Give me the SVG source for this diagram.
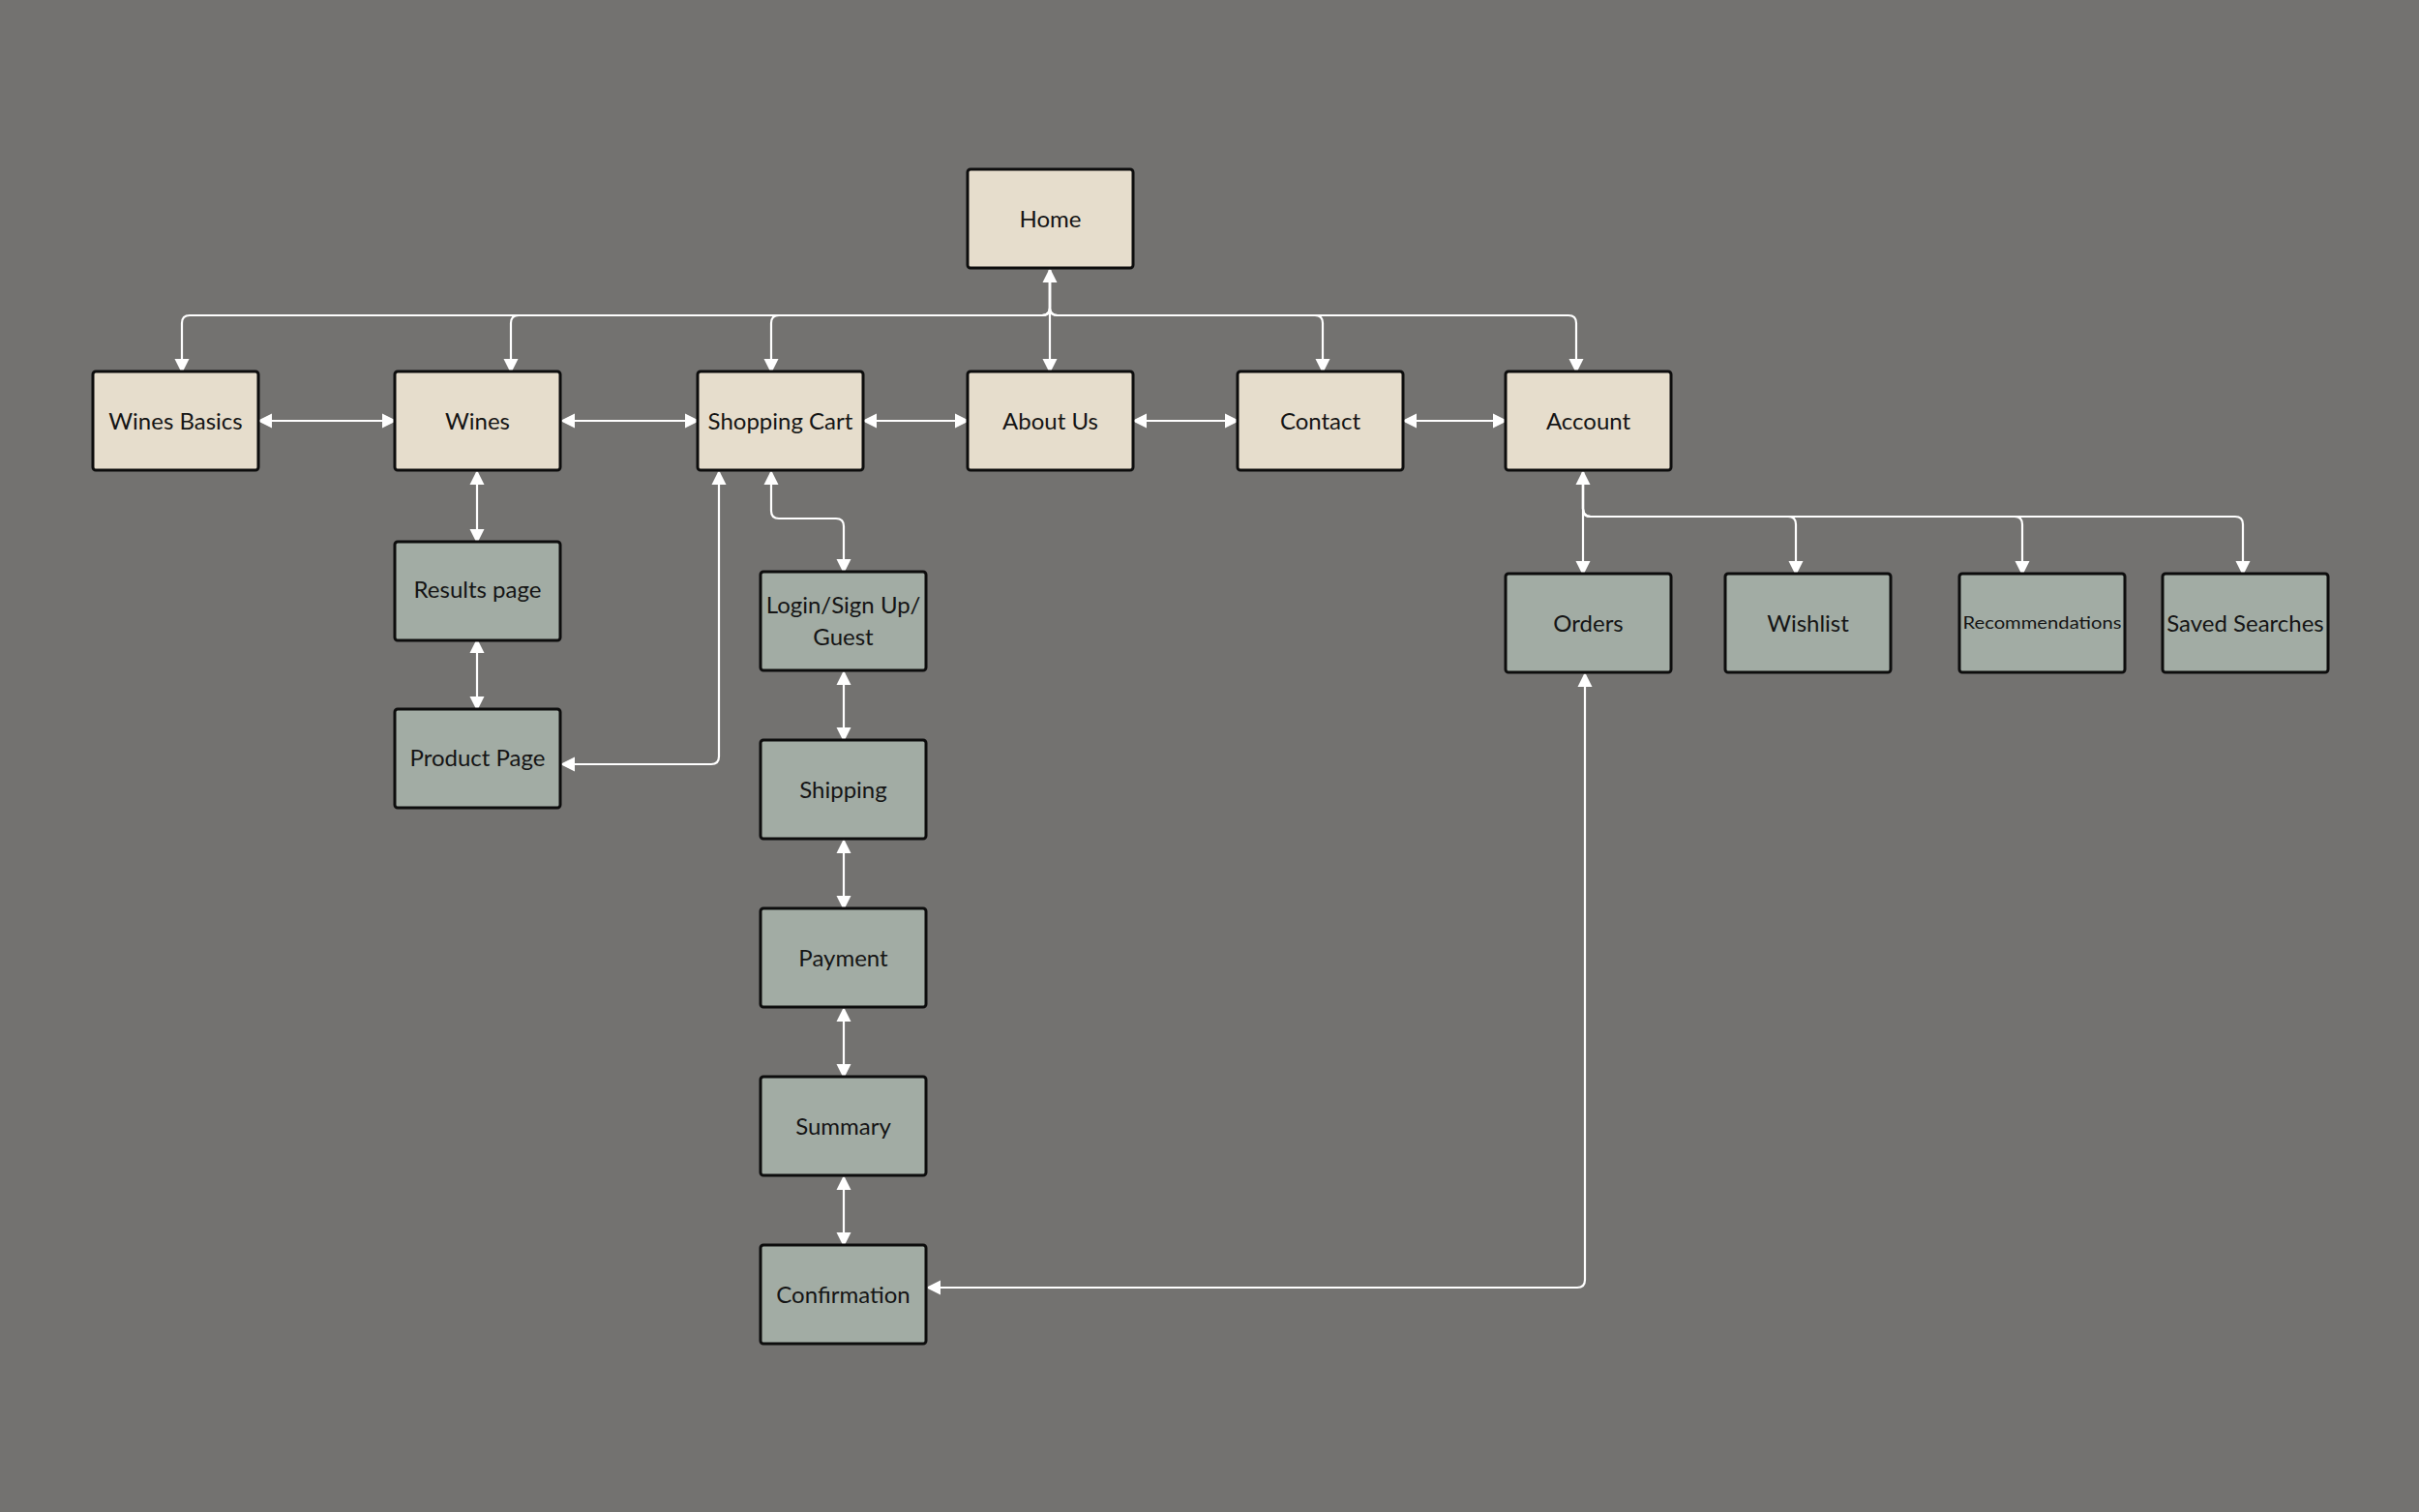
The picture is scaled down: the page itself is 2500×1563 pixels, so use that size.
<svg xmlns="http://www.w3.org/2000/svg" width="2500" height="1563" viewBox="0 0 2500 1563">
<defs>
<marker id="arr" viewBox="0 0 14 17" refX="13" refY="8.5" markerWidth="15" markerHeight="17" markerUnits="userSpaceOnUse" orient="auto-start-reverse">
<path d="M0,1 L13,7.5 Q14,8.5 13,9.5 L0,16 Z" fill="#ffffff"/>
</marker>
<style>
.bg{fill:#737270}
.main{fill:#e6ddcc;stroke:#0d0d0d;stroke-width:3}
.sub{fill:#a2aca4;stroke:#0d0d0d;stroke-width:3}
.lbl{font-family:Lato,"Open Sans","Liberation Sans",sans-serif;font-size:24px;fill:#151515;text-anchor:middle;dominant-baseline:central}
.small{font-size:18px}
.c{fill:none;stroke:#ffffff;stroke-width:2.2}
</style>
</defs>
<rect class="bg" x="0" y="0" width="2500" height="1563"/>

<g id="connectors">
<path class="c" d="M1085,279 V384" marker-start="url(#arr)" marker-end="url(#arr)"/>
<path class="c" d="M1085,279 V318 Q1085,326 1077,326 H196 Q188,326 188,334 V384" marker-end="url(#arr)"/>
<path class="c" d="M1085,279 V318 Q1085,326 1077,326 H536 Q528,326 528,334 V384" marker-end="url(#arr)"/>
<path class="c" d="M1085,279 V318 Q1085,326 1077,326 H805 Q797,326 797,334 V384" marker-end="url(#arr)"/>
<path class="c" d="M1085,279 V318 Q1085,326 1093,326 H1359 Q1367,326 1367,334 V384" marker-end="url(#arr)"/>
<path class="c" d="M1085,279 V318 Q1085,326 1093,326 H1621 Q1629,326 1629,334 V384" marker-end="url(#arr)"/>

<path class="c" d="M268,435 H408" marker-start="url(#arr)" marker-end="url(#arr)"/>
<path class="c" d="M581,435 H721" marker-start="url(#arr)" marker-end="url(#arr)"/>
<path class="c" d="M893,435 H1000" marker-start="url(#arr)" marker-end="url(#arr)"/>
<path class="c" d="M1172,435 H1279" marker-start="url(#arr)" marker-end="url(#arr)"/>
<path class="c" d="M1451,435 H1556" marker-start="url(#arr)" marker-end="url(#arr)"/>

<path class="c" d="M493,488 V560" marker-start="url(#arr)" marker-end="url(#arr)"/>
<path class="c" d="M493,662 V733" marker-start="url(#arr)" marker-end="url(#arr)"/>
<path class="c" d="M743,488 V782 Q743,790 735,790 H581" marker-start="url(#arr)" marker-end="url(#arr)"/>
<path class="c" d="M797,488 V528 Q797,536 805,536 H864 Q872,536 872,544 V591" marker-start="url(#arr)" marker-end="url(#arr)"/>

<path class="c" d="M872,695 V765" marker-start="url(#arr)" marker-end="url(#arr)"/>
<path class="c" d="M872,869 V939" marker-start="url(#arr)" marker-end="url(#arr)"/>
<path class="c" d="M872,1043 V1113" marker-start="url(#arr)" marker-end="url(#arr)"/>
<path class="c" d="M872,1217 V1287" marker-start="url(#arr)" marker-end="url(#arr)"/>

<path class="c" d="M1636,488 V593" marker-start="url(#arr)" marker-end="url(#arr)"/>
<path class="c" d="M1636,488 V526 Q1636,534 1644,534 H1848 Q1856,534 1856,542 V593" marker-end="url(#arr)"/>
<path class="c" d="M1636,488 V526 Q1636,534 1644,534 H2082 Q2090,534 2090,542 V593" marker-end="url(#arr)"/>
<path class="c" d="M1636,488 V526 Q1636,534 1644,534 H2310 Q2318,534 2318,542 V593" marker-end="url(#arr)"/>

<path class="c" d="M1638,697 V1323 Q1638,1331 1630,1331 H959" marker-start="url(#arr)" marker-end="url(#arr)"/>
</g>

<g id="home"><rect class="main" x="1000" y="175" width="171" height="102" rx="3"/><text class="lbl" x="1085.5" y="225">Home</text></g>
<g id="wines-basics"><rect class="main" x="96" y="384" width="171" height="102" rx="3"/><text class="lbl" x="181.5" y="434">Wines Basics</text></g>
<g id="wines"><rect class="main" x="408" y="384" width="171" height="102" rx="3"/><text class="lbl" x="493.5" y="434">Wines</text></g>
<g id="shopping-cart"><rect class="main" x="721" y="384" width="171" height="102" rx="3"/><text class="lbl" x="806.5" y="434">Shopping Cart</text></g>
<g id="about-us"><rect class="main" x="1000" y="384" width="171" height="102" rx="3"/><text class="lbl" x="1085.5" y="434">About Us</text></g>
<g id="contact"><rect class="main" x="1279" y="384" width="171" height="102" rx="3"/><text class="lbl" x="1364.5" y="434">Contact</text></g>
<g id="account"><rect class="main" x="1556" y="384" width="171" height="102" rx="3"/><text class="lbl" x="1641.5" y="434">Account</text></g>

<g id="results-page"><rect class="sub" x="408" y="560" width="171" height="102" rx="3"/><text class="lbl" x="493.5" y="608">Results page</text></g>
<g id="product-page"><rect class="sub" x="408" y="733" width="171" height="102" rx="3"/><text class="lbl" x="493.5" y="782">Product Page</text></g>

<g id="login"><rect class="sub" x="786" y="591" width="171" height="102" rx="3"/><text class="lbl" x="871.5" y="624">Login/Sign Up/</text><text class="lbl" x="871.5" y="657">Guest</text></g>
<g id="shipping"><rect class="sub" x="786" y="765" width="171" height="102" rx="3"/><text class="lbl" x="871.5" y="815">Shipping</text></g>
<g id="payment"><rect class="sub" x="786" y="939" width="171" height="102" rx="3"/><text class="lbl" x="871.5" y="989">Payment</text></g>
<g id="summary"><rect class="sub" x="786" y="1113" width="171" height="102" rx="3"/><text class="lbl" x="871.5" y="1163">Summary</text></g>
<g id="confirmation"><rect class="sub" x="786" y="1287" width="171" height="102" rx="3"/><text class="lbl" x="871.5" y="1337">Confirmation</text></g>

<g id="orders"><rect class="sub" x="1556" y="593" width="171" height="102" rx="3"/><text class="lbl" x="1641.5" y="643">Orders</text></g>
<g id="wishlist"><rect class="sub" x="1783" y="593" width="171" height="102" rx="3"/><text class="lbl" x="1868.5" y="643">Wishlist</text></g>
<g id="recommendations"><rect class="sub" x="2025" y="593" width="171" height="102" rx="3"/><text class="lbl small" x="2110.5" y="643" textLength="164" lengthAdjust="spacingAndGlyphs">Recommendations</text></g>
<g id="saved-searches"><rect class="sub" x="2235" y="593" width="171" height="102" rx="3"/><text class="lbl" x="2320.5" y="643">Saved Searches</text></g>
</svg>
